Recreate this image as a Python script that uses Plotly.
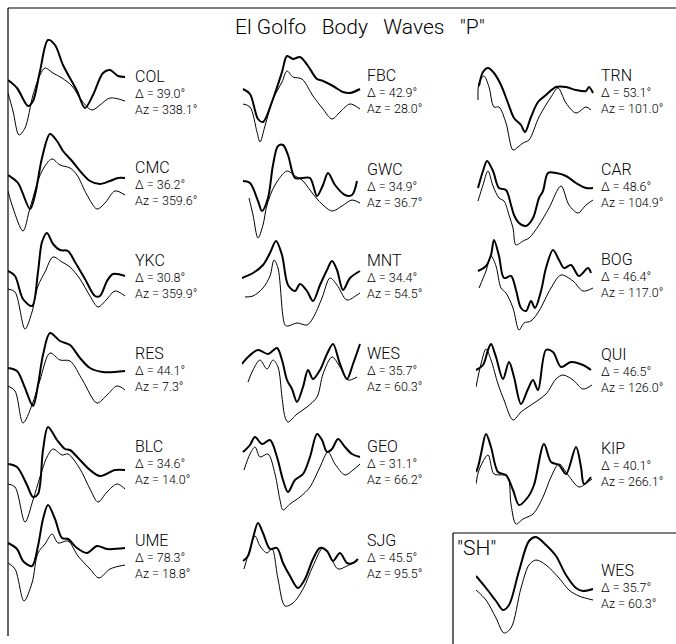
import plotly.graph_objects as go

W, H = 676, 644

TITLE = 'El Golfo\u00a0\u00a0 Body\u00a0\u00a0 Waves\u00a0\u00a0 "P"'
SH_LABEL = '"SH"'

STATIONS = ["COL", "CMC", "YKC", "RES", "BLC", "UME",
            "FBC", "GWC", "MNT", "WES", "GEO", "SJG",
            "TRN", "CAR", "BOG", "QUI", "KIP", "WES"]
DELTAS = [39.0, 36.2, 30.8, 44.1, 34.6, 78.3,
          42.9, 34.9, 34.4, 35.7, 31.1, 45.5,
          53.1, 48.6, 46.4, 46.5, 40.1, 35.7]
AZIMUTHS = [338.1, 359.6, 359.9, 7.3, 14.0, 18.8,
            28.0, 36.7, 54.5, 60.3, 66.2, 95.5,
            101.0, 104.9, 117.0, 126.0, 266.1, 60.3]

# waveform samples: [time, amplitude]; OBS = observed (heavy), SYN = synthetic (light)
COL_OBS = [[0,1],[9,-7],[20,-25],[25,-20],[32,10],[40,41],[47,36],[55,16],[69,-10],[77,-27],[85,-14],[95,8],[102,11],[110,5],[117,4]]
COL_SYN = [[0,-12],[5,-30],[11,-54],[17,-47],[25,-14],[32,6],[37,13],[45,8],[54,3],[64,-5],[74,-20],[84,-29],[92,-24],[102,-17],[117,-20]]
CMC_OBS = [[0,-5],[10,-13],[22,-39],[27,-25],[34,12],[42,36],[49,29],[55,19],[64,9],[72,-1],[82,-11],[92,-14],[102,-11],[110,-8],[117,-8]]
CMC_SYN = [[0,-21],[5,-38],[15,-61],[22,-38],[34,-1],[44,11],[52,5],[62,2],[69,-5],[79,-25],[89,-39],[97,-33],[107,-21],[117,-25]]
YKC_OBS = [[0,-9],[7,-14],[15,-37],[24,-44],[30,-10],[34,20],[39,29],[45,18],[52,12],[60,11],[67,0],[77,-17],[87,-34],[92,-34],[99,-19],[105,-12],[117,-14]]
YKC_SYN = [[0,-27],[7,-30],[17,-67],[24,-50],[30,-24],[37,-10],[45,5],[54,0],[62,-5],[72,-17],[82,-34],[90,-45],[99,-37],[107,-29],[117,-34]]
RES_OBS = [[0,-13],[9,-16],[17,-33],[25,-51],[30,-30],[35,0],[42,22],[52,14],[62,10],[72,-3],[82,-13],[95,-17],[117,-16]]
RES_SYN = [[0,-31],[7,-36],[15,-68],[24,-50],[32,-25],[42,2],[52,-5],[62,-6],[75,-26],[89,-48],[99,-40],[109,-31],[117,-35]]
BLC_OBS = [[0,-17],[9,-20],[19,-38],[25,-50],[30,-47],[35,-3],[40,20],[49,7],[57,-2],[62,-3],[72,-13],[82,-23],[92,-29],[107,-23],[117,-23]]
BLC_SYN = [[0,-37],[7,-40],[17,-75],[25,-53],[32,-30],[39,-10],[45,-2],[54,-8],[60,-7],[72,-22],[82,-42],[90,-55],[99,-45],[109,-37],[117,-42]]
UME_OBS = [[0,-2],[9,-8],[15,-20],[24,-25],[30,-5],[35,22],[40,36],[47,22],[54,3],[60,2],[69,-7],[79,-12],[89,-5],[99,-8],[117,-7]]
UME_SYN = [[0,-22],[7,-28],[16,-60],[24,-42],[30,-12],[37,-3],[44,7],[50,-2],[60,0],[70,-15],[82,-28],[91,-37],[102,-28],[117,-24]]
FBC_OBS = [[1,-11],[8,-16],[16,-41],[21,-44],[31,-21],[40,6],[45,22],[51,19],[58,21],[66,12],[75,-1],[81,-3],[91,-8],[101,-14],[108,-15],[118,-11]]
FBC_SYN = [[1,-26],[8,-29],[15,-54],[18,-64],[23,-48],[31,-21],[40,-4],[45,7],[51,1],[60,-1],[71,-18],[81,-31],[90,-41],[98,-34],[108,-26],[118,-31]]
GWC_OBS = [[1,-10],[8,-12],[16,-30],[20,-40],[26,-27],[31,6],[36,25],[41,26],[46,16],[53,-7],[60,-7],[68,-7],[75,-25],[81,-14],[86,-2],[93,-14],[103,-24],[110,-24],[115,-10]]
GWC_SYN = [[7,-27],[11,-44],[16,-67],[21,-54],[25,-34],[33,-14],[45,0],[53,-5],[60,-9],[68,-19],[76,-29],[90,-40],[100,-35],[110,-29],[118,-32]]
MNT_OBS = [[0,-17],[11,-12],[21,-4],[28,8],[34,20],[40,6],[46,-24],[53,-30],[58,-23],[65,-30],[71,-40],[78,-24],[85,-9],[90,0],[95,-9],[101,-29],[108,-17],[118,-10]]
MNT_SYN = [[3,-36],[11,-35],[21,-27],[28,-15],[32,1],[36,-7],[43,-64],[46,-65],[55,-62],[65,-64],[71,-57],[80,-37],[88,-17],[95,-24],[105,-39],[115,-34],[118,-32]]
WES_OBS = [[0,-10],[6,-3],[16,4],[26,0],[35,6],[40,-6],[45,-26],[50,-35],[55,-48],[61,-33],[66,-16],[71,-25],[78,-16],[85,0],[91,10],[98,-10],[105,-25],[111,-10],[118,10]]
WES_SYN = [[6,-28],[11,-16],[18,-6],[25,-15],[31,-6],[36,-13],[40,-43],[43,-63],[46,-68],[55,-60],[65,-53],[75,-43],[81,-20],[90,-3],[98,-13],[106,-26],[115,-23]]
GEO_OBS = [[1,-5],[8,2],[13,10],[20,3],[28,7],[35,-10],[41,-33],[46,-45],[53,-33],[61,-27],[68,-10],[75,13],[80,7],[85,-5],[90,-2],[96,8],[103,0],[110,-7],[118,-10]]
GEO_SYN = [[2,-23],[8,-7],[13,0],[18,-10],[26,-7],[33,-27],[38,-53],[41,-63],[48,-57],[58,-50],[68,-40],[78,-20],[86,-5],[93,-17],[103,-28],[111,-23],[118,-17]]
SJG_OBS = [[1,-20],[6,-15],[11,3],[16,18],[21,8],[28,-8],[35,-7],[41,-22],[48,-35],[56,-47],[63,-38],[71,-18],[78,-7],[85,-10],[91,-20],[98,-12],[105,-22],[111,-22],[116,-18]]
SJG_SYN = [[2,-28],[8,-8],[13,5],[18,-5],[25,-12],[30,-8],[36,-38],[43,-65],[51,-62],[61,-48],[71,-25],[81,-7],[88,-15],[96,-28],[105,-25],[115,-20]]
TRN_OBS = [[3,-8],[7,6],[12,10],[18,5],[25,-7],[32,-25],[38,-40],[45,-47],[49,-54],[55,-39],[62,-24],[70,-17],[80,-9],[90,-9],[100,-12],[110,-13],[113,-9],[117,-15]]
TRN_SYN = [[2,-22],[3,-5],[8,2],[13,-9],[18,-29],[23,-29],[30,-45],[37,-72],[42,-69],[47,-65],[53,-62],[63,-39],[75,-19],[82,-10],[90,-25],[100,-35],[110,-29],[115,-32]]
CAR_OBS = [[2,-17],[7,0],[11,10],[17,0],[23,-17],[30,-19],[35,-34],[38,-44],[43,-52],[50,-55],[57,-47],[63,-27],[67,-20],[72,-2],[80,-2],[90,-5],[100,-12],[110,-17],[117,-17]]
CAR_SYN = [[2,-30],[7,-14],[12,0],[17,-15],[23,-27],[28,-30],[33,-44],[37,-57],[40,-74],[47,-70],[53,-67],[63,-54],[73,-37],[85,-15],[93,-34],[102,-42],[110,-34],[117,-29]]
BOG_OBS = [[2,-11],[10,-6],[15,5],[18,20],[23,4],[28,-18],[35,-16],[40,-30],[45,-48],[50,-51],[55,-41],[59,-48],[65,-31],[70,-8],[77,10],[83,0],[88,-8],[95,-5],[103,-16],[112,-8],[115,-13]]
BOG_SYN = [[3,-28],[10,-11],[15,4],[20,-6],[25,-28],[30,-33],[37,-48],[43,-70],[48,-63],[55,-61],[63,-51],[75,-28],[85,-15],[97,-21],[107,-31],[117,-28]]
QUI_OBS = [[0,-15],[7,-10],[12,5],[15,11],[20,-2],[27,-24],[33,-7],[38,-22],[45,-49],[52,-34],[57,-25],[62,-35],[70,5],[77,3],[85,-12],[95,-7],[107,-10],[115,-15]]
QUI_SYN = [[0,-32],[5,-9],[10,6],[15,-5],[22,-29],[28,-45],[37,-65],[45,-57],[52,-52],[70,-39],[80,-24],[87,-20],[97,-25],[107,-34],[116,-30]]
KIP_OBS = [[0,-23],[2,-18],[5,-5],[10,15],[15,2],[22,-23],[30,-26],[37,-41],[43,-56],[52,-48],[58,-36],[68,5],[75,-13],[83,-16],[90,-25],[100,2],[105,-18],[108,-35],[115,-28]]
KIP_SYN = [[0,-35],[3,-21],[12,-6],[18,-25],[27,-26],[32,-28],[35,-55],[40,-75],[47,-70],[57,-65],[67,-48],[75,-28],[83,-15],[92,-26],[103,-38],[112,-33],[116,-30]]
SH_WES_OBS = [[0,-5],[10,-17],[20,-30],[27,-39],[33,-34],[43,0],[53,30],[60,34],[70,26],[80,15],[90,-4],[100,-17],[107,-20],[117,-18]]
SH_WES_SYN = [[0,-19],[10,-29],[20,-47],[28,-62],[35,-57],[45,-17],[53,6],[60,11],[70,6],[83,-7],[93,-19],[103,-25],[117,-29]]

OBSERVED = [COL_OBS, CMC_OBS, YKC_OBS, RES_OBS, BLC_OBS, UME_OBS,
            FBC_OBS, GWC_OBS, MNT_OBS, WES_OBS, GEO_OBS, SJG_OBS,
            TRN_OBS, CAR_OBS, BOG_OBS, QUI_OBS, KIP_OBS, SH_WES_OBS]
SYNTHETIC = [COL_SYN, CMC_SYN, YKC_SYN, RES_SYN, BLC_SYN, UME_SYN,
             FBC_SYN, GWC_SYN, MNT_SYN, WES_SYN, GEO_SYN, SJG_SYN,
             TRN_SYN, CAR_SYN, BOG_SYN, QUI_SYN, KIP_SYN, SH_WES_SYN]

# ---- layout (pixels) ----
COL_TRACE_X = [8, 242, 476]
COL_LABEL_X = [134, 366, 600]
ROW_Y = [[77, 168, 261, 354, 447, 541],
         [76, 170, 261, 354, 447, 541],
         [76, 170, 260, 355, 449, 571]]
TRACE_SHIFT = [[4, 2, 1, 1, 0, 0],
               [2, 1, 0, 0, 0, 0],
               [2, 1, 0, 0, 0, 0]]
PANEL_W = 125
UP, DOWN = 62, 80
NAME_FONT = dict(family="Roboto, Liberation Sans, Arial", size=16, color="black", weight=300)
INFO_FONT = dict(family="Roboto, Liberation Sans, Arial", size=12.5, color="black", weight=300)
TITLE_FONT = dict(family="Roboto, Liberation Sans, Arial", size=21, color="black", weight=300)

fig = go.Figure()
annotations = []
k = 0
for c in range(3):
    for r in range(len(ROW_Y[c])):
        y0 = ROW_Y[c][r]
        yt = y0 + TRACE_SHIFT[c][r]
        x0 = COL_TRACE_X[c]
        top = max(yt - UP, 0)
        bot = min(yt + DOWN, H)
        n = k + 1
        xa = "x" if n == 1 else f"x{n}"
        ya = "y" if n == 1 else f"y{n}"
        xkey = "xaxis" if n == 1 else f"xaxis{n}"
        ykey = "yaxis" if n == 1 else f"yaxis{n}"
        fig.layout[xkey] = dict(domain=[x0 / W, (x0 + PANEL_W) / W], range=[0, PANEL_W],
                                visible=False, fixedrange=True)
        fig.layout[ykey] = dict(domain=[1 - bot / H, 1 - top / H], range=[-(bot - yt), yt - top],
                                visible=False, fixedrange=True)
        for series, width in ((SYNTHETIC[k], 1.0), (OBSERVED[k], 2.0)):
            fig.add_trace(go.Scatter(
                x=[p[0] for p in series], y=[p[1] for p in series],
                mode="lines", line=dict(color="black", width=width, shape="spline", smoothing=0.9),
                xaxis=xa, yaxis=ya, showlegend=False, hoverinfo="skip"))
        lx = COL_LABEL_X[c]
        annotations.append(dict(text=STATIONS[k], x=lx / W, y=1 - (y0 - 1) / H, xref="paper", yref="paper",
                                xanchor="left", yanchor="middle", showarrow=False, borderpad=0,
                                font=NAME_FONT))
        info = f"\u0394 = {DELTAS[k]:.1f}\u00b0<br>Az = {AZIMUTHS[k]:.1f}\u00b0"
        annotations.append(dict(text=info, x=lx / W, y=1 - (y0 + 24.5) / H,
                                xref="paper", yref="paper", xanchor="left", yanchor="middle",
                                align="left", showarrow=False, borderpad=0, font=INFO_FONT))
        k += 1

annotations.append(dict(text=TITLE, x=360 / W, y=1 - 27 / H, xref="paper", yref="paper",
                        xanchor="center", yanchor="middle", showarrow=False, font=TITLE_FONT))
annotations.append(dict(text=SH_LABEL, x=455 / W, y=1 - 548 / H, xref="paper", yref="paper",
                        xanchor="left", yanchor="middle", showarrow=False, font=TITLE_FONT))

line = dict(color="black", width=1.2)
shapes = [
    dict(type="line", xref="paper", yref="paper", x0=8 / W, x1=1, y0=1 - 8 / H, y1=1 - 8 / H, line=line),
    dict(type="line", xref="paper", yref="paper", x0=8 / W, x1=8 / W, y0=1 - 8 / H, y1=1 - 636 / H, line=line),
    dict(type="line", xref="paper", yref="paper", x0=453 / W, x1=1, y0=1 - 533 / H, y1=1 - 533 / H, line=line),
    dict(type="line", xref="paper", yref="paper", x0=453 / W, x1=453 / W, y0=1 - 533 / H, y1=0, line=line),
]

fig.update_layout(width=W, height=H, autosize=False, margin=dict(l=0, r=0, t=0, b=0, pad=0),
                  paper_bgcolor="white", plot_bgcolor="rgba(0,0,0,0)",
                  annotations=annotations, shapes=shapes, showlegend=False)

fig.write_html("out.html", config={"displayModeBar": False})
